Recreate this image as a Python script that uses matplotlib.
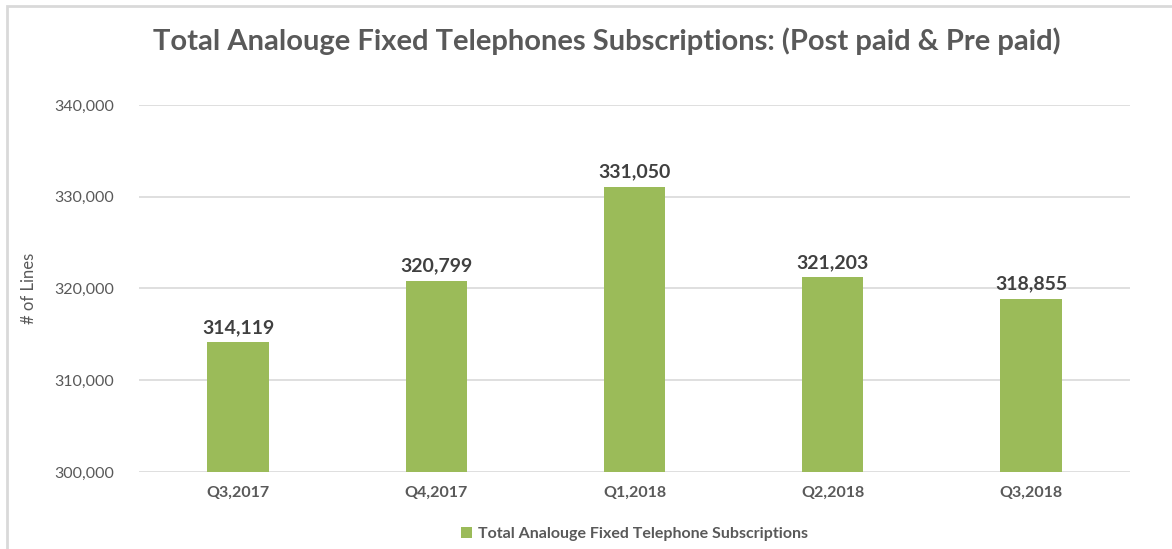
import matplotlib.pyplot as plt
from matplotlib.patches import Rectangle
from matplotlib.ticker import FuncFormatter

quarters = ['Q3,2017', 'Q4,2017', 'Q1,2018', 'Q2,2018', 'Q3,2018']
lines = [314119, 320799, 331050, 321203, 318855]

plt.rcParams['font.family'] = ['Lato', 'DejaVu Sans']
grey = '#595959'

fig = plt.figure(figsize=(11.72, 5.49), dpi=100)
fig.patches.append(Rectangle((7 / 1172, -0.1), 1.2, 1.1 - 6 / 549, transform=fig.transFigure,
                             fill=False, edgecolor='#d9d9d9', linewidth=2))
ax = fig.add_axes([0.1186, 0.1403, 0.8456, 0.6684])

bars = ax.bar(range(len(quarters)), lines, width=0.31, color='#9bbb59',
              label='Total Analouge Fixed Telephone Subscriptions', zorder=3)
for i, v in enumerate(lines):
    ax.text(i, v + 700, f'{v:,}', ha='center', va='bottom', fontsize=14,
            fontweight='bold', color='#404040')

ax.set_ylim(300000, 340000)
ax.set_xlim(-0.5, len(quarters) - 0.5)
ax.set_yticks(range(300000, 340001, 10000))
ax.yaxis.set_major_formatter(FuncFormatter(lambda v, p: f'{int(v):,}'))
ax.set_xticks(range(len(quarters)))
ax.set_xticklabels(quarters, fontweight='bold')
ax.tick_params(axis='both', length=0, labelsize=11.5, colors=grey)
ax.tick_params(axis='y', pad=18)
ax.tick_params(axis='x', pad=10)
ax.grid(axis='y', color='#d9d9d9', linewidth=1.2, zorder=0)
for s in ax.spines.values():
    s.set_visible(False)
ax.set_ylabel('# of Lines', fontsize=12, color=grey, labelpad=12)

fig.text(0.518, 0.925, 'Total Analouge Fixed Telephones Subscriptions: (Post paid & Pre paid)',
         ha='center', va='center', fontsize=21, fontweight='bold', color=grey)
ax.legend(loc='upper center', bbox_to_anchor=(0.5, -0.11), frameon=False,
          handlelength=0.7, handleheight=0.7, handletextpad=0.4, labelcolor=grey,
          prop={'weight': 'bold', 'size': 11.5})

fig.savefig('out.png', dpi=100)
